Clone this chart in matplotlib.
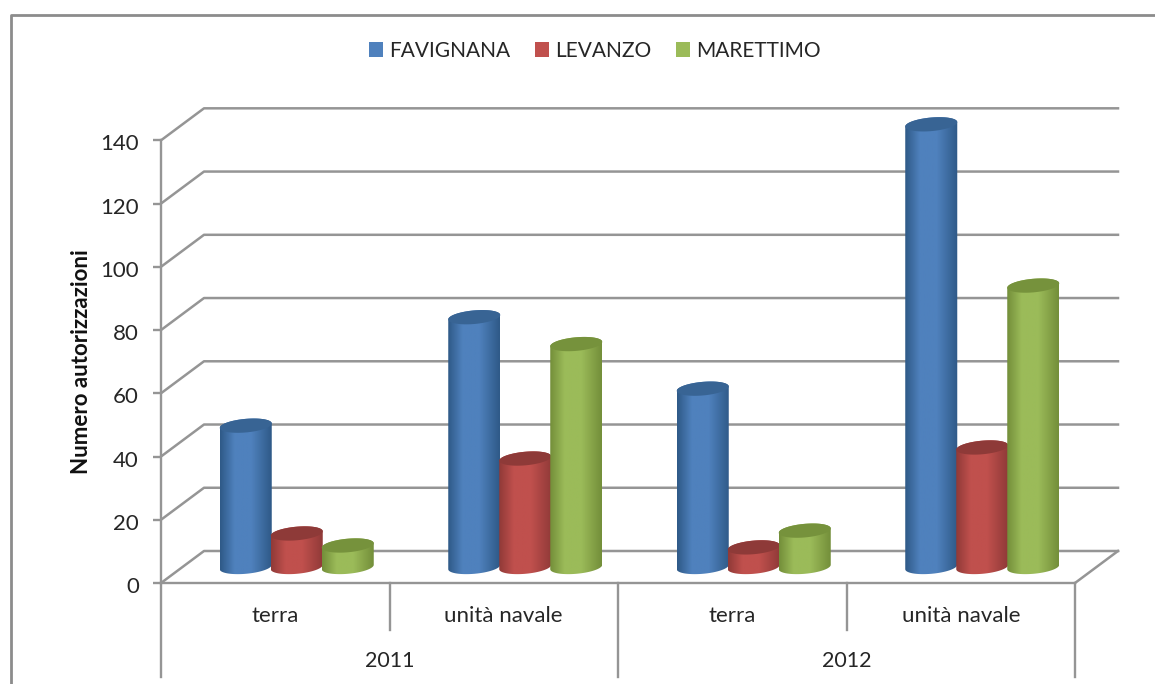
import numpy as np
import matplotlib
matplotlib.use("Agg")
import matplotlib.pyplot as plt
from matplotlib.patches import Patch, PathPatch
from matplotlib.path import Path
from matplotlib.colors import LinearSegmentedColormap
from matplotlib.transforms import ScaledTranslation

plt.rcParams['font.family'] = ['Lato', 'DejaVu Sans']

categories = ['terra', 'unità navale', 'terra', 'unità navale']
years = ['2011', '2012']
series_names = ['FAVIGNANA', 'LEVANZO', 'MARETTIMO']
favignana = [44.7, 79, 56.4, 140]
levanzo = [10.6, 34.3, 6.2, 37.8]
marettimo = [6.8, 70.5, 11.5, 89]
yticks = [0, 20, 40, 60, 80, 100, 120, 140]

# colours: edge, middle, top of the cylinder
blue = ['#2f5a88', '#4f81bd', '#386494']
red = ['#913a38', '#c0504d', '#8e3a38']
green = ['#748f3a', '#9bbb59', '#76923c']
grid_col = '#959595'
frame_col = '#8c8c8c'
text_col = '#262626'

W, H = 1155, 684
fig = plt.figure(figsize=(W/100, H/100), dpi=100)
ax = fig.add_axes([0, 0, 1, 1])

# px per category and per unit, origin of the front axis in px
xs = 228.5
ys = 3.162
x0, y0 = 161, 583
ax.set_xlim(-x0/xs, (W-x0)/xs)
ax.set_ylim((y0-H)/ys, y0/ys)

# 3d depth of the walls
dx = 43/xs
dy = 32/ys

for s in ['top', 'right']:
    ax.spines[s].set_visible(False)
ax.spines['left'].set_position(('data', 0))
ax.spines['bottom'].set_position(('data', 0))
ax.spines['left'].set_bounds(0, 140)
ax.spines['bottom'].set_bounds(0, 4)
for s in ['left', 'bottom']:
    ax.spines[s].set_color(grid_col)
    ax.spines[s].set_linewidth(1.7)
ax.set_xticks([])
ax.set_yticks(yticks)
ax.tick_params(axis='y', length=5.5, width=1.7, color=grid_col, labelsize=16,
               labelcolor=text_col, pad=10.5)
for lab in ax.get_yticklabels():
    lab.set_transform(lab.get_transform() + ScaledTranslation(0, -1.5/72, fig.dpi_scale_trans))

# outer frame, only top and left are in the picture
fx = (11-x0)/xs
fy = (y0-15)/ys
ax.plot([fx, fx, (W-x0)/xs], [(y0-H)/ys, fy, fy], color=frame_col, lw=2, zorder=0)

# walls
for v in yticks:
    ax.plot([0, dx, 4+dx], [v, v+dy, v+dy], color=grid_col, lw=1.8, zorder=1)
ax.plot([4, 4+dx], [0, dy], color=grid_col, lw=1.8, zorder=1)

# dividers under the axis
for i in range(5):
    low = -29.6 if i % 2 == 0 else -15
    ax.plot([i, i], [0, low], color=grid_col, lw=1.7, zorder=1)

for i, c in enumerate(categories):
    ax.text(i+0.5, -10.3, c, ha='center', va='center', fontsize=16, color=text_col)
for i, y in enumerate(years):
    ax.text(2*i+1, -24.8, y, ha='center', va='center', fontsize=15.5, color=text_col)

ax.text((82-x0)/xs, 70, 'Numero autorizzazioni', rotation=90, ha='center', va='center',
        fontsize=16, fontweight='bold', color='#111111')


def cylinder(xc, val, w, cols):
    # ellipse half height and tilt, in value units
    b = 6.8/ys
    tilt = 2.2/ys
    base = dy/2
    t = np.linspace(0, np.pi, 60)
    xb = xc + w/2*np.cos(t+np.pi)
    yb = base - b*np.sin(t) + tilt*np.cos(t+np.pi)
    xt = xc + w/2*np.cos(t)
    yt = base + val + b*np.sin(t) + tilt*np.cos(t)
    body = np.column_stack([np.r_[xb, xt], np.r_[yb, yt]])
    cmap = LinearSegmentedColormap.from_list('c', [cols[0], cols[1], cols[1], cols[0]])
    grad = np.interp(np.linspace(0, 1, 64), [0, 0.3, 0.55, 1], [0, 0.36, 0.62, 1]).reshape(1, -1)
    im = ax.imshow(grad, cmap=cmap, aspect='auto', zorder=3,
                   extent=[xc-w/2, xc+w/2, base-b-tilt, base+val+b+tilt])
    clip = PathPatch(Path(body), transform=ax.transData, fc='none', ec='none')
    ax.add_patch(clip)
    im.set_clip_path(clip)
    tt = np.linspace(0, 2*np.pi, 80)
    top = np.column_stack([xc + w/2*np.cos(tt), base + val + b*np.sin(tt) + tilt*np.cos(tt)])
    ax.fill(top[:, 0], top[:, 1], color=cols[2], lw=0, zorder=3)


# bars are 52 px wide, centred half way into the depth
bar_w = 52/xs
step = 51/xs
for i in range(4):
    xc = i + 0.5 + dx/2
    for k, (vals, cols) in enumerate(zip([favignana, levanzo, marettimo], [blue, red, green])):
        cylinder(xc + (k-1)*step, vals[i], bar_w, cols)

ax.set_xlim(-x0/xs, (W-x0)/xs)
ax.set_ylim((y0-H)/ys, y0/ys)

handles = [Patch(fc=c[1], ec='none') for c in [blue, red, green]]
ax.legend(handles, series_names, ncols=3, loc='center', bbox_to_anchor=(595/W, 1-51/H),
          frameon=False, fontsize=15, handlelength=0.7, handleheight=0.7,
          handletextpad=0.3, columnspacing=1.15, labelcolor=text_col)

fig.savefig('out.png', dpi=100)
